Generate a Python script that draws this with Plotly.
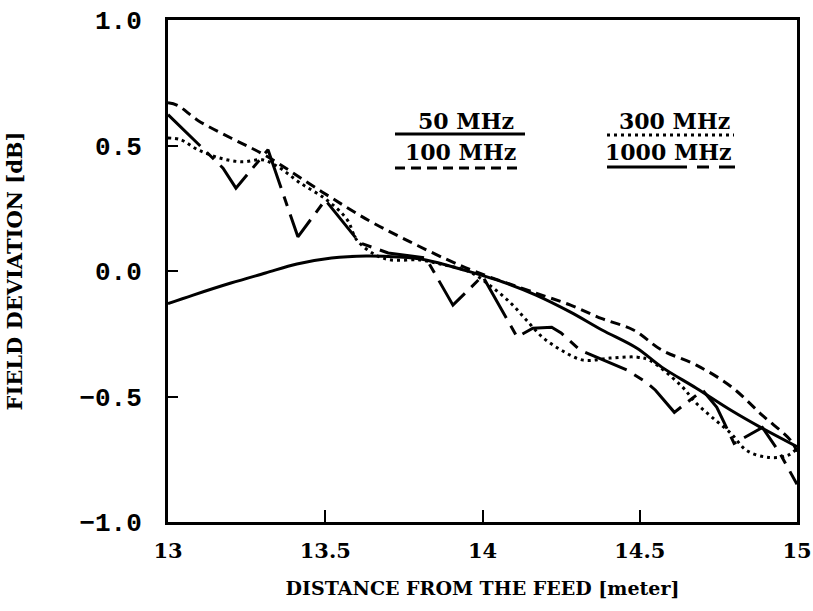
import plotly.graph_objects as go

# ---- data ----
x_50 = [13.0, 13.08, 13.2, 13.31, 13.41, 13.52, 13.63, 13.73, 13.82, 13.94, 14.065, 14.17, 14.28, 14.38, 14.49, 14.57, 14.68, 14.79, 14.89, 15.0]
y_50 = [-0.13, -0.096, -0.048, -0.008, 0.028, 0.052, 0.06, 0.056, 0.044, 0.004, -0.044, -0.096, -0.164, -0.235, -0.307, -0.383, -0.467, -0.555, -0.627, -0.70]

x_100 = [13.0, 13.03, 13.095, 13.2, 13.31, 13.49, 13.64, 13.77, 13.89, 13.98, 14.17, 14.28, 14.38, 14.48, 14.57, 14.68, 14.79, 14.89, 14.98, 15.0]
y_100 = [0.67, 0.66, 0.60, 0.53, 0.46, 0.315, 0.20, 0.116, 0.044, -0.004, -0.088, -0.136, -0.19, -0.235, -0.315, -0.375, -0.46, -0.575, -0.675, -0.72]

x_300 = [13.0, 13.04, 13.095, 13.165, 13.235, 13.30, 13.35, 13.42, 13.505, 13.57, 13.60, 13.66, 13.71, 13.80, 13.865, 13.96, 14.03, 14.09, 14.14, 14.19, 14.25, 14.32, 14.405, 14.49, 14.53, 14.63, 14.68, 14.73, 14.79, 14.84, 14.91, 14.97, 15.0]
y_300 = [0.53, 0.523, 0.483, 0.45, 0.435, 0.443, 0.415, 0.351, 0.283, 0.204, 0.124, 0.064, 0.044, 0.044, 0.028, -0.004, -0.064, -0.128, -0.196, -0.263, -0.315, -0.355, -0.347, -0.343, -0.355, -0.455, -0.527, -0.583, -0.647, -0.715, -0.743, -0.735, -0.707]

x_1000 = [13.0, 13.175, 13.216, 13.318, 13.413, 13.50, 13.61, 13.70, 13.82, 13.906, 14.0, 14.11, 14.16, 14.22, 14.25, 14.31, 14.46, 14.52, 14.55, 14.61, 14.70, 14.745, 14.765, 14.80, 14.89, 14.946, 15.0]
y_1000 = [0.623, 0.41, 0.33, 0.483, 0.136, 0.283, 0.112, 0.072, 0.052, -0.136, -0.02, -0.263, -0.228, -0.224, -0.247, -0.315, -0.395, -0.443, -0.475, -0.563, -0.475, -0.543, -0.595, -0.687, -0.623, -0.727, -0.85]

x_ticks = [13, 13.5, 14, 14.5, 15]
x_ticklabels = ["13", "13.5", "14", "14.5", "15"]
y_ticks = [-1.0, -0.5, 0.0, 0.5, 1.0]
y_ticklabels = ["\u22121.0", "\u22120.5", "0.0", "0.5", "1.0"]

legend_names = ["50 MHz", "100 MHz", "300 MHz", "1000 MHz"]

SERIF = "DejaVu Serif"
MONO = "Liberation Mono"

fig = go.Figure()
fig.add_trace(go.Scatter(x=x_50, y=y_50, mode="lines", name=legend_names[0],
                         line=dict(color="black", width=3, shape="spline")))
fig.add_trace(go.Scatter(x=x_100, y=y_100, mode="lines", name=legend_names[1],
                         line=dict(color="black", width=3, dash="10px,6px", shape="spline")))
fig.add_trace(go.Scatter(x=x_300, y=y_300, mode="lines", name=legend_names[2],
                         line=dict(color="black", width=3, dash="3px,4px", shape="spline")))
fig.add_trace(go.Scatter(x=x_1000, y=y_1000, mode="lines", name=legend_names[3],
                         line=dict(color="black", width=3, dash="45px,9px,10px,9px")))

# in-plot legend (text + style samples), paper coordinates
def px_to_paper(px, py):
    return (px - 168) / 629.0, (522 - py) / 502.0

legend_items = [
    (legend_names[0], 466, 121, 395, 525, 134, "solid"),
    (legend_names[1], 460, 152, 395, 520, 168, "10px,6px"),
    (legend_names[2], 674, 121, 607, 734, 135, "3px,4px"),
    (legend_names[3], 668, 152, 607, 735, 167, "80px,10px,12px,10px"),
]
for name, tx, ty, x0, x1, ly, dash in legend_items:
    ax, ay = px_to_paper(tx, ty)
    fig.add_annotation(x=ax, y=ay, xref="paper", yref="paper", text=name, showarrow=False,
                       font=dict(family=SERIF, size=22, color="black", weight="bold"),
                       xanchor="center", yanchor="middle")
    sx0, sy = px_to_paper(x0, ly)
    sx1, _ = px_to_paper(x1, ly)
    fig.add_shape(type="line", xref="paper", yref="paper", x0=sx0, x1=sx1, y0=sy, y1=sy,
                  line=dict(color="black", width=3, dash=dash))

fig.update_layout(
    width=813, height=611,
    margin=dict(l=168, r=16, t=20, b=89),
    paper_bgcolor="white", plot_bgcolor="white",
    showlegend=False,
)
fig.update_xaxes(
    range=[13, 15], tickvals=x_ticks, ticktext=x_ticklabels,
    showline=True, linecolor="black", linewidth=3, mirror=True,
    ticks="inside", ticklen=12, tickwidth=2, tickcolor="black",
    showgrid=False, zeroline=False, automargin=False,
    tickfont=dict(family=SERIF, size=21, color="black", weight="bold"),
    ticklabelstandoff=8,
    title=dict(text="DISTANCE FROM THE FEED [meter]", standoff=20,
               font=dict(family=SERIF, size=19, color="black", weight="bold")),
)
fig.update_yaxes(
    range=[-1, 1], tickvals=y_ticks, ticktext=y_ticklabels,
    showline=True, linecolor="black", linewidth=3, mirror=True,
    ticks="inside", ticklen=10, tickwidth=2, tickcolor="black",
    showgrid=False, zeroline=False, automargin=False,
    tickfont=dict(family=MONO, size=26, color="black", weight="bold"),
    ticklabelstandoff=18,
    title=dict(text="FIELD DEVIATION [dB]", standoff=52,
               font=dict(family=SERIF, size=21, color="black", weight="bold")),
)

fig.write_html("out.html")
